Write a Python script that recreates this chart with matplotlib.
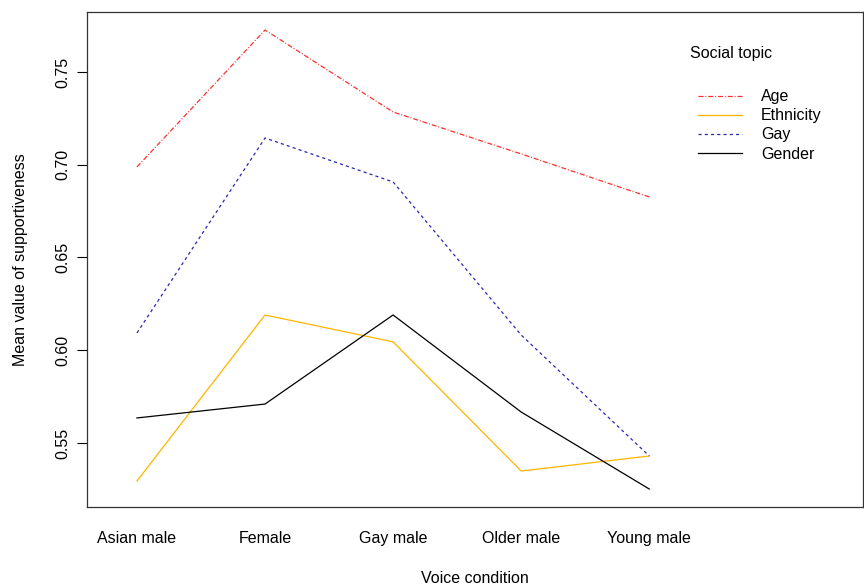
import numpy as np
import matplotlib.pyplot as plt

plt.rcParams['font.family'] = ['Liberation Sans', 'DejaVu Sans']

conditions = ["Asian male", "Female", "Gay male", "Older male", "Young male"]
topics = ["Age", "Ethnicity", "Gay", "Gender"]
age = [0.6988, 0.7726, 0.7284, 0.7058, 0.6826]
ethnicity = [0.5295, 0.6190, 0.6045, 0.5349, 0.5430]
gay = [0.6093, 0.7144, 0.6907, 0.6082, 0.5430]
gender = [0.5635, 0.5710, 0.6190, 0.5667, 0.5252]

series = [age, ethnicity, gay, gender]
colors = ["#FF3030", "#FFB400", "#2828B0", "black"]
dashes = [(4, 1.5, 0.8, 1.5), None, (2.5, 2.5), None]
fs = 11.5

fig = plt.figure(figsize=(8.64, 5.86), dpi=100)
ax = fig.add_axes([0.1007, 0.1348, 0.8983, 0.8447])

x = np.arange(1, len(conditions) + 1)
for name, vals, c, d in zip(topics, series, colors, dashes):
    line, = ax.plot(x, vals, color=c, lw=0.9, label=name)
    if d is not None:
        line.set_dashes(d)

ax.set_xlim(0.61, 6.67)
ax.set_ylim(0.5155, 0.7823)
ax.set_yticks([0.55, 0.60, 0.65, 0.70, 0.75])
ax.set_yticklabels(["0.55", "0.60", "0.65", "0.70", "0.75"], rotation=90, va="center")
ax.set_xticks(x)
ax.set_xticklabels(conditions)
ax.tick_params(axis="x", length=0, pad=17, labelsize=fs)
ax.tick_params(axis="y", length=7, width=0.8, pad=5, labelsize=fs)
for s in ax.spines.values():
    s.set_linewidth(0.9)
    s.set_color("#333333")

ax.set_xlabel("Voice condition", fontsize=fs, labelpad=18)
ax.set_ylabel("Mean value of supportiveness", fontsize=fs, labelpad=20)

leg = ax.legend(loc="upper left", bbox_to_anchor=(0.779, 0.857), frameon=False,
                fontsize=fs, handlelength=2.75, handletextpad=1.2,
                labelspacing=0.26, borderaxespad=0.0)
ax.text(0.777, 0.917, "Social topic", transform=ax.transAxes,
        fontsize=fs, ha="left", va="center")

fig.savefig("out.png", dpi=100)
